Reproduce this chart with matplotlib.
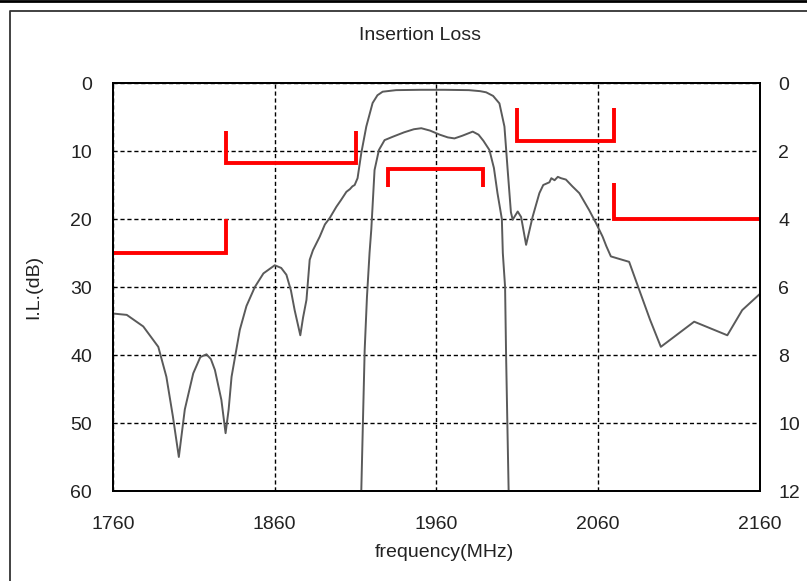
import matplotlib
matplotlib.use("Agg")
import matplotlib.pyplot as plt
from matplotlib.lines import Line2D

plt.rcParams["font.family"] = ["Liberation Sans", "DejaVu Sans"]

# wide-band insertion loss (left axis, dB)
wide_f = [1760, 1768.5, 1778.7, 1788, 1793, 1797, 1800.7, 1804.4, 1809.6, 1814, 1817.8,
          1820.5, 1823, 1827, 1829.6, 1831.5, 1833.3, 1838.4, 1842.5, 1847.7, 1853, 1860,
          1864, 1867.2, 1870, 1872.3, 1875.8, 1877.5, 1879.6, 1881.6, 1883.6, 1887.8, 1891,
          1894, 1898.1, 1901, 1904.3, 1906.5, 1908, 1909.4, 1911.2, 1913.5, 1916.6, 1920.5,
          1923.5, 1926.7, 1935, 1950, 1965, 1980, 1987, 1990.7, 1995, 1998.9, 2002, 2004,
          2006, 2007.1, 2010.2, 2012.3, 2015.4, 2019.4, 2023.6, 2026, 2029.8, 2031, 2033,
          2035, 2037, 2040, 2044, 2048.3, 2054.4, 2058.6, 2062.7, 2065, 2067.8, 2072,
          2079.1, 2085.3, 2092, 2098.7, 2119.3, 2139.8, 2149, 2160]
wide_il = [33.9, 34.1, 35.8, 38.8, 43.2, 49, 55, 48, 42.7, 40.3, 39.9,
           40.6, 42.2, 46.6, 51.5, 48, 43.2, 36.3, 32.8, 30, 28, 26.8,
           27.2, 28.2, 30.5, 33.4, 37.1, 34.5, 31.9, 26.0, 24.6, 22.6, 20.8,
           19.85, 18.2, 17.2, 16.0, 15.6, 15.2, 15.0, 14.0, 10.3, 6.4, 2.94,
           1.8, 1.28, 1.05, 1.0, 1.0, 1.05, 1.2, 1.37, 1.9, 3.0, 6.4, 12.8,
           19.0, 20.1, 18.9, 19.7, 23.8, 19.7, 16.2, 15.0, 14.6, 14.0, 14.3,
           13.8, 14.0, 14.2, 15.2, 16.2, 18.7, 20.6, 22.6, 24.0, 25.5, 25.8,
           26.3, 30.4, 34.8, 38.8, 35.1, 37.1, 33.4, 31.0]

# passband zoom (right axis, dB)
pass_f = [1913.5, 1914.5, 1915.6, 1917, 1918.6, 1919.7, 1921.7, 1924.4, 1927.9, 1933, 1940,
          1946, 1950.6, 1956, 1962, 1967, 1971.1, 1976, 1982.4, 1986, 1989, 1992.7,
          1995.5, 1997.7, 2000.4, 2001, 2002.4, 2003, 2003.8, 2004.6]
pass_il = [12, 10, 7.85, 6.3, 5.0, 4.3, 2.56, 1.97, 1.68, 1.58, 1.45,
           1.36, 1.33, 1.40, 1.52, 1.60, 1.63, 1.55, 1.43, 1.52, 1.7, 1.97,
           2.5, 3.24, 4.0, 5.0, 6.0, 7.94, 10, 12]

# spec masks (frequency MHz, dB)
mask_low_f, mask_low_db = [1760, 1830, 1830], [25, 25, 20]
mask_tx_f, mask_tx_db = [1830, 1830, 1910, 1910], [7, 11.8, 11.8, 7]
mask_pass_f, mask_pass_db = [1930, 1930, 1989, 1989], [3.05, 2.53, 2.53, 3.05]   # right axis
mask_hi_f, mask_hi_db = [2010, 2010, 2070, 2070], [3.7, 8.6, 8.6, 3.7]
mask_far_f, mask_far_db = [2070, 2070, 2160], [14.7, 20, 20]

FS = 14
TXT = "#222222"

fig = plt.figure(figsize=(8.07, 5.81), dpi=100)
ax = fig.add_axes([113 / 807, 1 - 491 / 581, 647 / 807, 408 / 581])
ax2 = ax.twinx()

curve = dict(color="#5a5a5a", lw=1.4)
red = dict(color="red", lw=2.8, solid_capstyle="butt", solid_joinstyle="miter")

ax.plot(wide_f, wide_il, **curve)
ax2.plot(pass_f, pass_il, **curve)
for f, db in [(mask_low_f, mask_low_db), (mask_tx_f, mask_tx_db),
              (mask_hi_f, mask_hi_db), (mask_far_f, mask_far_db)]:
    ax.plot(f, db, **red)
ax2.plot(mask_pass_f, mask_pass_db, **red)

ax.set_xlim(1760, 2160)
ax.set_ylim(60, 0)
ax2.set_ylim(12, 0)
ax.set_xticks([1760, 1860, 1960, 2060, 2160])
ax.set_yticks(range(0, 61, 10))
ax2.set_yticks(range(0, 13, 2))
ax.grid(True, color="black", ls=(0, (3, 2)), lw=1.0)
for a in (ax, ax2):
    a.tick_params(length=0, labelsize=FS, colors=TXT)
    for s in a.spines.values():
        s.set_linewidth(1.3)
ax.tick_params(axis="x", pad=18)
ax.tick_params(axis="y", pad=15)
ax2.tick_params(axis="y", pad=13)
ax.set_xlabel("frequency(MHz)", fontsize=FS, color=TXT)
ax.xaxis.set_label_coords(0.512, -0.13)
ax.set_ylabel("I.L.(dB)", fontsize=FS, labelpad=20, color=TXT)
fig.text(420 / 807, 1 - 35 / 581, "Insertion Loss", ha="center", va="center",
         fontsize=FS, color=TXT)

# window frame
fig.add_artist(Line2D([0, 1], [1 - 1 / 581] * 2, transform=fig.transFigure, color="black", lw=2))
fig.add_artist(Line2D([9.5 / 807, 9.5 / 807, 1], [0, 1 - 10.5 / 581, 1 - 10.5 / 581],
                      transform=fig.transFigure, color="#333333", lw=1.3))

fig.savefig("out.png", dpi=100)
